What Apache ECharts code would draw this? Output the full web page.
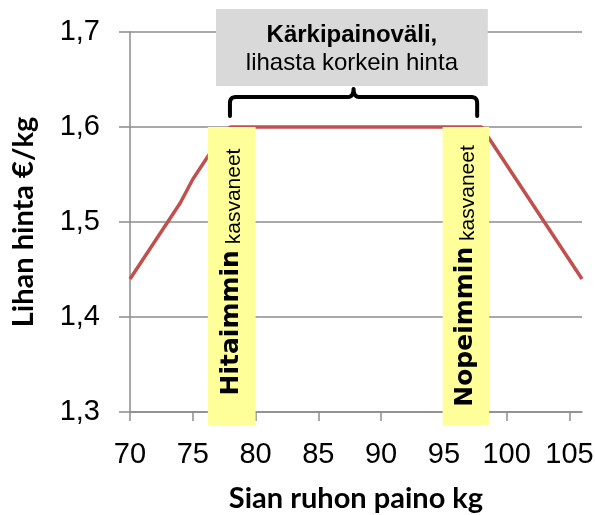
<!DOCTYPE html>
<html>
<head>
<meta charset="utf-8">
<script src="https://cdn.jsdelivr.net/npm/echarts@6/dist/echarts.min.js"></script>
<style>
	html, body { margin: 0; padding: 0; background: #fff; }
	#chart { width: 595px; height: 515px; }
</style>
</head>
<body>
<div id="chart"></div>
<script>
	// sian ruhon paino (kg) ja lihan hinta (€/kg)
	var weights = [70, 71, 72, 73, 74, 75, 76, 77, 78, 79, 80, 81, 82, 83, 84, 85, 86, 87, 88,
		89, 90, 91, 92, 93, 94, 95, 96, 97, 98, 99, 100, 101, 102, 103, 104, 105, 106];
	var prices = [1.44, 1.46, 1.48, 1.50, 1.52, 1.545, 1.565, 1.585, 1.60, 1.60, 1.60, 1.60, 1.60,
		1.60, 1.60, 1.60, 1.60, 1.60, 1.60, 1.60, 1.60, 1.60, 1.60, 1.60, 1.60, 1.60, 1.60, 1.60,
		1.60, 1.58, 1.56, 1.54, 1.52, 1.50, 1.48, 1.46, 1.44];
	var xTicks = [70, 75, 80, 85, 90, 95, 100, 105];

	var gridColor = '#8c8c8c';
	var chart = echarts.init(document.getElementById('chart'));

	var lineData = [];
	weights.forEach(function(w, i) {
		lineData.push([w, prices[i]]);
	});

	var option = {
		animation : false,
		backgroundColor : '#fff',
		grid : {
			left : 130,
			right : 13,
			top : 32,
			bottom : 103,
			containLabel : false,
			outerBoundsMode : 'none'
		},
		xAxis : {
			type : 'value',
			min : 70,
			max : 106,
			interval : 5,
			name : 'Sian ruhon paino kg',
			nameLocation : 'middle',
			nameGap : 72,
			nameTextStyle : {
				fontFamily : 'Lato',
				fontWeight : 'bold',
				fontSize : 29,
				color : '#000'
			},
			axisLine : {
				lineStyle : { color : gridColor, width : 1.5 }
			},
			axisTick : {
				length : 9,
				customValues : xTicks,
				lineStyle : { color : gridColor, width : 1.5 }
			},
			axisLabel : {
				customValues : xTicks,
				margin : 28,
				fontFamily : 'Liberation Sans',
				fontSize : 29,
				color : '#000'
			},
			splitLine : { show : false }
		},
		yAxis : {
			type : 'value',
			min : 1.3,
			max : 1.7,
			interval : 0.1,
			name : 'Lihan hinta €/kg',
			nameLocation : 'middle',
			nameGap : 92,
			nameTextStyle : {
				fontFamily : 'Lato',
				fontWeight : 'bold',
				fontSize : 29,
				color : '#000'
			},
			axisLine : {
				show : true,
				lineStyle : { color : gridColor, width : 1.5 }
			},
			axisTick : {
				show : true,
				length : 11,
				lineStyle : { color : gridColor, width : 1.5 }
			},
			axisLabel : {
				margin : 30,
				fontFamily : 'Liberation Sans',
				fontSize : 29,
				color : '#000',
				formatter : function(v) {
					return v.toFixed(1).replace('.', ',');
				}
			},
			splitLine : {
				lineStyle : { color : gridColor, width : 1.5 }
			}
		},
		series : [ {
			type : 'line',
			data : lineData,
			showSymbol : false,
			z : 2,
			lineStyle : { color : '#c0504d', width : 3.5 }
		} ]
	};
	chart.setOption(option);

	// annotaatiot sijoitetaan akselien mukaan
	function px(x, y) {
		return chart.convertToPixel({ gridIndex : 0 }, [x, y]);
	}
	var bottomPx = px(70, 1.3)[1] + 13;
	var topPx = px(70, 1.6)[1];

	var measureCtx = document.createElement('canvas').getContext('2d');
	function textWidth(font, text) {
		measureCtx.font = font;
		return measureCtx.measureText(text).width;
	}
	var boldFont = 'bold 25px "DejaVu Sans"';
	var plainFont = '21px "Liberation Sans"';

	function yellowBox(x0, x1, bold, rest, dy) {
		var a = px(x0, 1.6), b = px(x1, 1.3);
		var wb = textWidth(boldFont, bold), ws = textWidth(plainFont, ' '), wr = textWidth(plainFont, rest);
		var start = -(wb + ws + wr) / 2;
		return [ {
			type : 'rect',
			z : 10,
			shape : { x : a[0], y : topPx, width : b[0] - a[0], height : bottomPx - topPx },
			style : { fill : '#ffff99' }
		}, {
			type : 'group',
			z : 11,
			x : (a[0] + b[0]) / 2,
			y : (topPx + bottomPx) / 2 + dy,
			rotation : Math.PI / 2,
			children : [ {
				type : 'text',
				z : 11,
				x : start,
				y : 0,
				style : {
					text : bold,
					align : 'left',
					verticalAlign : 'middle',
					font : boldFont,
					fill : '#000'
				}
			}, {
				type : 'text',
				z : 11,
				x : start + wb + ws,
				y : 2.5,
				style : {
					text : rest,
					align : 'left',
					verticalAlign : 'middle',
					font : plainFont,
					fill : '#000'
				}
			} ]
		} ];
	}

	// kaarisulje pisteinä
	function quad(pts, p0, c, p1) {
		for (var t = 0.2; t <= 1.0001; t += 0.2) {
			var u = 1 - t;
			pts.push([u * u * p0[0] + 2 * u * t * c[0] + t * t * p1[0],
				u * u * p0[1] + 2 * u * t * c[1] + t * t * p1[1]]);
		}
	}
	var l = px(77.96, 1.6)[0], r = px(97.65, 1.6)[0], m = (l + r) / 2;
	var by = 97, ey = 116, rad = 6;
	var pts = [[l, ey], [l, by + rad]];
	quad(pts, [l, by + rad], [l, by], [l + rad, by]);
	pts.push([m - rad, by]);
	quad(pts, [m - rad, by], [m, by], [m, by - 8]);
	quad(pts, [m, by - 8], [m, by], [m + rad, by]);
	pts.push([r - rad, by]);
	quad(pts, [r - rad, by], [r, by], [r, by + rad]);
	pts.push([r, ey]);

	var gl = px(76.85, 1.6)[0], gr = px(98.5, 1.6)[0];
	var graphics = [ {
		type : 'rect',
		z : 10,
		shape : { x : gl, y : 9, width : gr - gl, height : 77 },
		style : { fill : '#d9d9d9' }
	}, {
		type : 'text',
		z : 11,
		x : (gl + gr) / 2,
		y : 35,
		style : {
			text : 'Kärkipainoväli,',
			align : 'center',
			verticalAlign : 'middle',
			font : 'bold 24px "Liberation Sans"',
			fill : '#000'
		}
	}, {
		type : 'text',
		z : 11,
		x : (gl + gr) / 2,
		y : 63,
		style : {
			text : 'lihasta korkein hinta',
			align : 'center',
			verticalAlign : 'middle',
			font : '24px "Liberation Sans"',
			fill : '#000'
		}
	}, {
		type : 'polyline',
		z : 11,
		shape : { points : pts },
		style : { fill : null, stroke : '#000', lineWidth : 4, lineCap : 'round', lineJoin : 'round' }
	} ];
	graphics = graphics.concat(yellowBox(76.2, 80.0, 'Hitaimmin', 'kasvaneet', -4));
	graphics = graphics.concat(yellowBox(94.9, 98.6, 'Nopeimmin', 'kasvaneet', 0));

	chart.setOption({ graphic : graphics });
</script>
</body>
</html>
